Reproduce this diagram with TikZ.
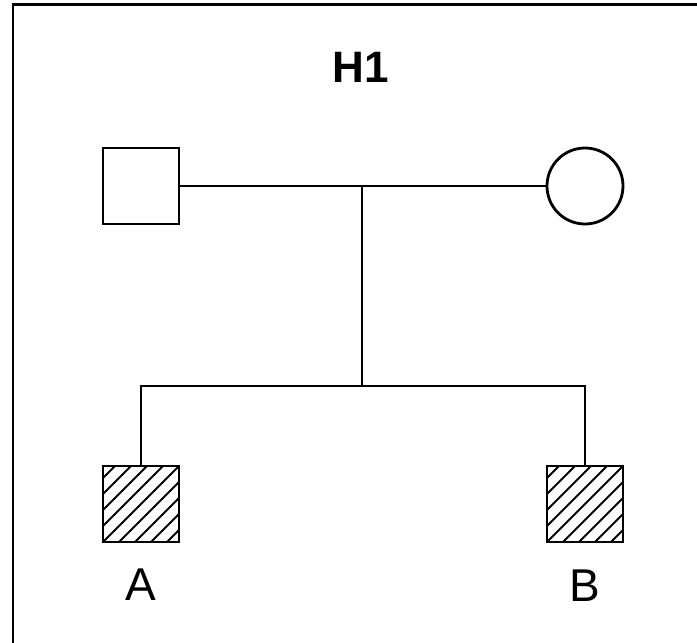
\documentclass[tikz,border=0pt]{standalone}
\usepackage{fontspec}
\setmainfont{Liberation Sans}
\begin{document}
\begin{tikzpicture}[x=1pt,y=-1pt,
  shapeline/.style={line width=2.8pt},
  link/.style={line width=2.2pt},
  male/.style={draw,shapeline,rectangle,minimum size=76pt,inner sep=0pt},
  female/.style={draw,shapeline,circle,minimum size=76pt,inner sep=0pt},
  hatched/.style={path picture={
     \foreach \s in {-96,-80,...,96}
       \draw[line width=2pt] ([shift={(\s pt-60pt,-60pt)}]path picture bounding box.center) -- ++(120pt,120pt);
  }},
  lab/.style={inner sep=0pt,font=\fontsize{46}{46}\selectfont},
  title/.style={inner sep=0pt,font=\fontsize{44}{44}\selectfont\bfseries}]
\useasboundingbox (0,0) rectangle (697,643);
\fill[white] (0,0) rectangle (697,643);
% frame (left and top edges only)
\draw[line width=2.8pt] (13,643) -- (13,4.3) -- (697,4.3);
\node[title] (T) at (361,67) {H1};
\node[male] (F) at (141,186) {};
\node[female] (M) at (585,186) {};
\node[male,hatched] (A) at (141,504) {};
\node[male,hatched] (B) at (585,504) {};
\node[lab] (LA) at (141,584.5) {A};
\node[lab] (LB) at (585,586) {B};
\coordinate (J) at (362,186);
\coordinate (K) at (362,386);
\draw[link] (F.east) -- (M.west);
\draw[link] (J) -- (K);
\draw[link] (A.north) |- (K) -| (B.north);
\end{tikzpicture}
\end{document}
